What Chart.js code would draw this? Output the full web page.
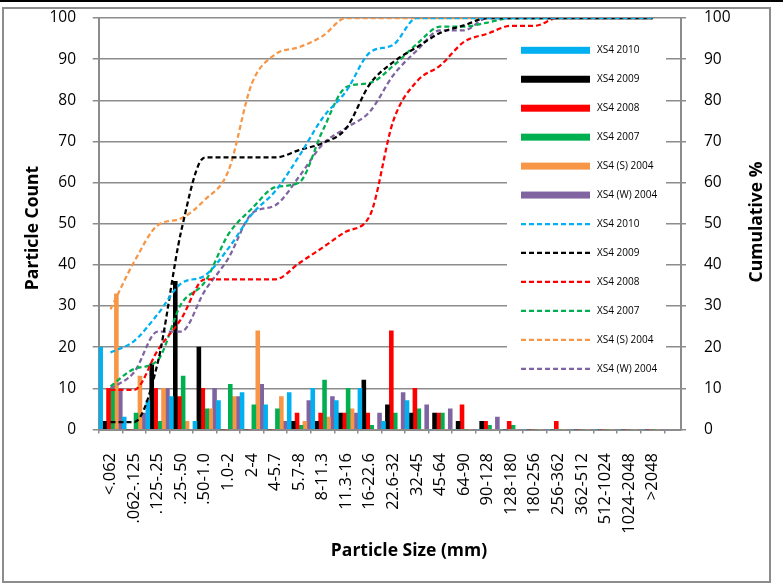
<!DOCTYPE html>
<html><head><meta charset="utf-8">
<script src="https://cdn.jsdelivr.net/npm/chart.js@4.4.1/dist/chart.umd.min.js"></script>
<style>
html,body{margin:0;padding:0;background:#fff;width:783px;height:584px;overflow:hidden;position:relative}
#topbar{position:absolute;left:0;top:0;width:783px;height:2px;background:#000}
#frame{position:absolute;left:2px;top:7px;width:765px;height:572px;border:2px solid #8c8c8c}
#c{position:absolute;left:0;top:0}
</style></head><body>
<div id="topbar"></div><div id="frame"></div>
<canvas id="c" width="783" height="584"></canvas>
<script>
const categories = ['<.062','.062-.125','.125-.25','.25-.50','.50-1.0','1.0-2','2-4','4-5.7','5.7-8','8-11.3','11.3-16','16-22.6','22.6-32','32-45','45-64','64-90','90-128','128-180','180-256','256-362','362-512','512-1024','1024-2048','>2048'];

const count2010  = [20,3,7,8,2,7,9,6,9,10,7,10,2,7,0,0,0,0,0,0,0,0,0,0];
const count2009  = [2,0,16,36,20,0,0,0,2,2,4,12,6,4,4,2,2,0,0,0,0,0,0,0];
const count2008  = [10,0,10,8,10,0,0,0,4,4,4,4,24,10,4,6,2,2,0,2,0,0,0,0];
const count2007  = [10,4,2,13,5,11,6,5,1,12,10,1,4,5,4,0,1,1,0,0,0,0,0,0];
const count2004S = [33,13,10,2,5,8,24,8,2,3,5,0,0,0,0,0,0,0,0,0,0,0,0,0];
const count2004W = [10,4,10,0,10,8,11,2,7,8,4,4,9,6,5,0,3,0,0,0,0,0,0,0];

const cum2010  = [18.7,21.5,28,35.5,37.4,44,52.3,58,66.4,75.7,82.2,91.6,93.5,100,100,100,100,100,100,100,100,100,100,100];
const cum2009  = [1.8,1.8,16.1,48.2,66.1,66.1,66.1,66.1,67.9,69.6,73.2,83.9,89.3,92.9,96.4,98.2,100,100,100,100,100,100,100,100];
const cum2008  = [9.6,9.6,19.2,26.9,36.5,36.5,36.5,36.5,40.4,44.2,48.1,51.9,75,84.6,88.5,94.2,96.2,98.1,98.1,100,100,100,100,100];
const cum2007  = [10.5,14.7,16.8,30.5,35.8,47.4,53.7,58.9,60,72.6,83.2,84.2,88.4,93.7,97.9,97.9,98.9,100,100,100,100,100,100,100];
const cum2004S = [29.2,40.7,49.6,51.3,55.8,62.8,84.1,91.2,92.9,95.6,100,100,100,100,100,100,100,100,100,100,100,100,100,100];
const cum2004W = [9.9,13.9,23.8,23.8,33.7,41.6,52.5,54.5,61.4,69.3,73.3,77.2,86.1,92.1,97,97,100,100,100,100,100,100,100,100];

const yTicks = [0,10,20,30,40,50,60,70,80,90,100];

const seriesLabels = ['XS4 2010','XS4 2009','XS4 2008','XS4 2007','XS4 (S) 2004','XS4 (W) 2004'];
const colors = ['#00B0F0','#000000','#FF0000','#00B050','#F79646','#8064A2'];
const counts = [count2010,count2009,count2008,count2007,count2004S,count2004W];
const cums = [cum2010,cum2009,cum2008,cum2007,cum2004S,cum2004W];

const FONT = '"Open Sans", "DejaVu Sans", sans-serif';
const GRID = '#8c8c8c';

const datasets = [];
counts.forEach((d,i)=>datasets.push({type:'bar',label:seriesLabels[i],data:d,backgroundColor:colors[i],borderWidth:0,
  categoryPercentage:1,barPercentage:1,yAxisID:'y',order:1}));
cums.forEach((d,i)=>datasets.push({type:'line',label:seriesLabels[i],data:d,borderColor:colors[i],backgroundColor:colors[i],
  borderWidth:2.25,borderDash:[5,3],pointRadius:0,fill:false,cubicInterpolationMode:'monotone',yAxisID:'y1',order:0}));

const boxLegend = {
  id:'boxLegend',
  afterDatasetsDraw(chart){
    const {ctx, chartArea} = chart;
    const x0 = chartArea.right - 174, y0 = chartArea.top + 18;
    ctx.save();
    ctx.fillStyle = '#fff';
    ctx.fillRect(x0, y0, 159, 347);
    chart.data.datasets.forEach((ds,i)=>{
      const y = chartArea.top + 32.3 + i*28.95;
      const sx = x0 + 14, ex = x0 + 83;
      if (ds.type === 'line') {
        ctx.setLineDash([5,3]); ctx.lineWidth = 2.25; ctx.strokeStyle = ds.borderColor;
        ctx.beginPath(); ctx.moveTo(sx,y); ctx.lineTo(ex,y); ctx.stroke();
        ctx.setLineDash([]);
      } else {
        ctx.fillStyle = ds.backgroundColor; ctx.fillRect(sx, y-3.5, ex-sx, 7);
      }
      ctx.fillStyle = '#000'; ctx.font = '10px ' + FONT; ctx.textBaseline = 'middle'; ctx.textAlign = 'left';
      ctx.fillText(ds.label, x0 + 90, y);
    });
    ctx.restore();
  },
  afterDraw(chart){
    const {ctx} = chart;
    ctx.save();
    ctx.font = 'bold 17.5px ' + FONT; ctx.textAlign = 'center'; ctx.textBaseline = 'middle'; ctx.fillStyle = '#000';
    ctx.fillText('Particle Size (mm)', 409, 551);
    ctx.save(); ctx.translate(33, 228); ctx.rotate(-Math.PI/2); ctx.fillText('Particle Count', 0, 0); ctx.restore();
    ctx.save(); ctx.translate(757, 222); ctx.rotate(-Math.PI/2); ctx.fillText('Cumulative %', 0, 0); ctx.restore();
    ctx.restore();
  }
};

const noVPad = (s, w) => { s.width = w; s.paddingTop = 0; s.paddingBottom = 0; };

new Chart(document.getElementById('c'), {
  data:{labels:categories, datasets},
  options:{
    responsive:false, animation:false,
    layout:{padding:{left:5,right:13,top:18,bottom:18}},
    plugins:{legend:{display:false},tooltip:{enabled:false}},
    scales:{
      x:{
        offset:true,
        grid:{drawOnChartArea:false,offset:true,tickLength:4,color:GRID,lineWidth:1.5},
        border:{color:GRID,width:2},
        ticks:{autoSkip:false,minRotation:90,maxRotation:90,padding:19.5,color:'#000',font:{family:FONT,size:16.5}},
        afterBuildTicks:(s)=>{ s._valueRange = categories.length * 1.0295; },
        afterFit:(s)=>{ s.height = 136.5; s.paddingLeft = 0; s.paddingRight = 0; }
      },
      y:{
        position:'left',min:0,max:100,
        afterBuildTicks:(s)=>{ s.ticks = yTicks.map(v=>({value:v})); },
        grid:{color:GRID,lineWidth:1.5,tickLength:6},
        border:{color:GRID,width:2},
        ticks:{padding:16.7,color:'#000',font:{family:FONT,size:15.5}},
        afterFit:(s)=>noVPad(s, 93.7)
      },
      y1:{
        position:'right',min:0,max:100,
        afterBuildTicks:(s)=>{ s.ticks = yTicks.map(v=>({value:v})); },
        grid:{drawOnChartArea:false,color:GRID,lineWidth:1.5,tickLength:5},
        border:{color:GRID,width:2},
        ticks:{padding:18,color:'#000',font:{family:FONT,size:15.5}},
        afterFit:(s)=>noVPad(s, 89)
      }
    }
  },
  plugins:[boxLegend]
});
</script>
</body></html>
